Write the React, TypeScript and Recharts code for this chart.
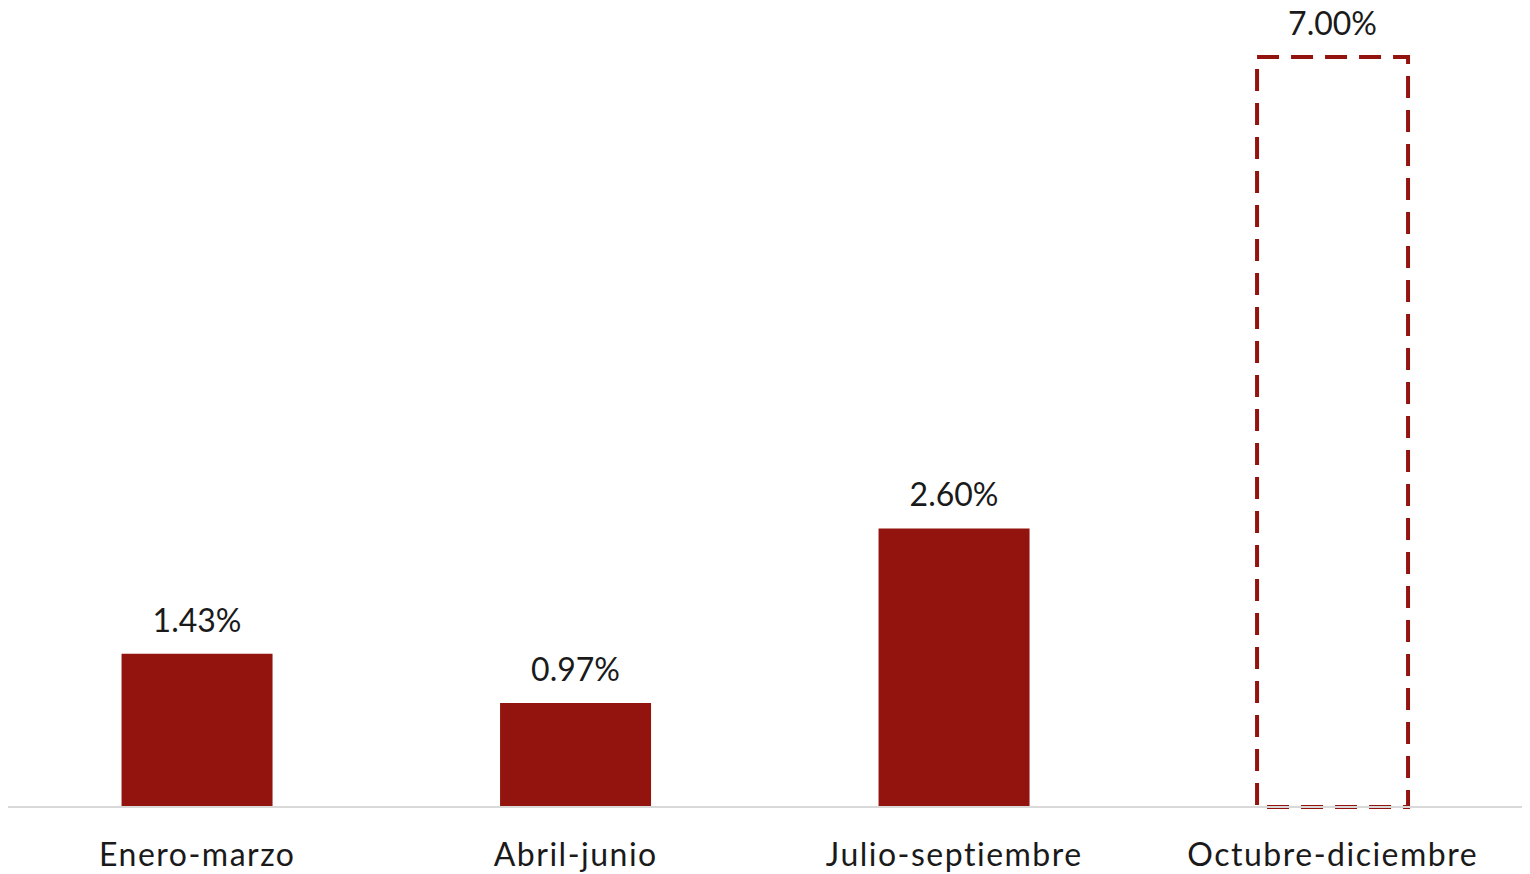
import { Bar, BarChart, XAxis, YAxis, LabelList, Cell } from "recharts"

const periodos = ["Enero-marzo", "Abril-junio", "Julio-septiembre", "Octubre-diciembre"]
const valores = [1.43, 0.97, 2.6, 7.0]
const proyectado = [false, false, false, true]

const ROJO = "#93140f"

const data = periodos.map((name, i) => ({ name, value: valores[i], proyectado: proyectado[i] }))

export default function App() {
  return (
    <div style={{ width: 1514, height: 874, marginTop: -8, fontFamily: "Lato, 'Noto Sans', sans-serif" }}>
      <BarChart
        width={1514}
        height={874}
        data={data}
        margin={{ top: 57, right: 0, left: 0, bottom: 0 }}
        barCategoryGap="30%"
      >
        <XAxis
          dataKey="name"
          tickLine={false}
          tickSize={0}
          tickMargin={36}
          height={67}
          axisLine={{ stroke: "#d9d9d9", strokeWidth: 2 }}
          tick={{ fill: "#1a1a1a", fontSize: 32, letterSpacing: 1.5 }}
          interval={0}
        />
        <YAxis hide domain={[0, 7]} />
        <Bar dataKey="value" isAnimationActive={false}>
          {data.map((d, i) =>
            d.proyectado ? (
              <Cell key={i} fill="none" stroke={ROJO} strokeWidth={4} strokeDasharray="22 12" />
            ) : (
              <Cell key={i} fill={ROJO} />
            )
          )}
          <LabelList
            dataKey="value"
            position="top"
            offset={22}
            formatter={(v: number) => `${v.toFixed(2)}%`}
            style={{ fill: "#1a1a1a", fontSize: 32 }}
          />
        </Bar>
      </BarChart>
    </div>
  )
}
